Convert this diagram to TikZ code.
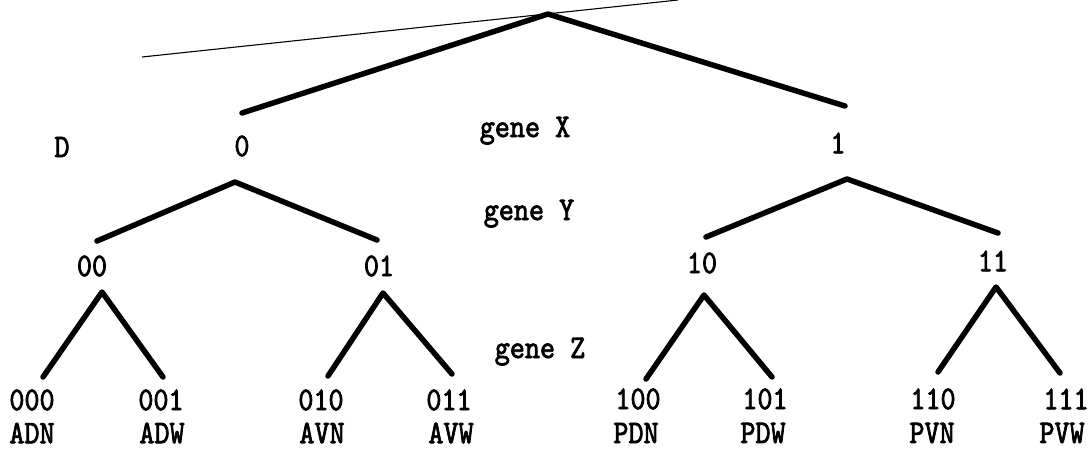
\documentclass[tikz,border=0pt]{standalone}
\usepackage{fontspec}
\newfontfamily\twfont{lmmono10-regular.otf}[FakeBold=2.2,FakeStretch=0.87]
\begin{document}
\begin{tikzpicture}[x=1pt,y=-1pt,
  branch/.style={line width=5.5pt, line cap=round, line join=round},
  thinline/.style={line width=1.1pt},
  lab/.style={font=\fontsize{33}{33}\selectfont\twfont, inner sep=0pt},
  gene/.style={lab, anchor=base}]
\useasboundingbox (0,0) rectangle (1091,451);
% apices and branch ends
\coordinate (r)  at (548,14);
\coordinate (r0) at (242,113);
\coordinate (r1) at (845,106);
\coordinate (a0) at (235,182);
\coordinate (a00) at (97,241);
\coordinate (a01) at (377,240);
\coordinate (a1) at (847,179);
\coordinate (a10) at (706,237);
\coordinate (a11) at (998,233);
\coordinate (b00) at (102,292);
\coordinate (b000) at (43,377);
\coordinate (b001) at (163,377);
\coordinate (b01) at (383,293);
\coordinate (b010) at (328,376);
\coordinate (b011) at (452,374);
\coordinate (b10) at (704,295);
\coordinate (b100) at (646,379);
\coordinate (b101) at (772,377);
\coordinate (b11) at (996,287);
\coordinate (b110) at (938,372);
\coordinate (b111) at (1060,373);
\coordinate (t1) at (142,57);
\coordinate (t2) at (678,0);
% thin stray line
\draw[thinline] (t1) -- (t2);
% branches
\draw[branch] (r0) -- (r) -- (r1);
\draw[branch] (a00) -- (a0) -- (a01);
\draw[branch] (a10) -- (a1) -- (a11);
\draw[branch] (b000) -- (b00) -- (b001);
\draw[branch] (b010) -- (b01) -- (b011);
\draw[branch] (b100) -- (b10) -- (b101);
\draw[branch] (b110) -- (b11) -- (b111);
% labels
\node[lab] (nD) at (62,147) {D};
\node[lab] (n0) at (242,146) {0};
\node[lab] (n1) at (838,143) {1};
\node[gene] (gx) at (525,137) {gene X};
\node[gene] (gy) at (529,220) {gene Y};
\node[gene] (gz) at (540,358) {gene Z};
\node[lab] (n00) at (92,266) {00};
\node[lab] (n01) at (379,266) {01};
\node[lab] (n10) at (702,263) {10};
\node[lab] (n11) at (993,261) {11};
\node[lab] (n000) at (32,400) {000};
\node[lab] (n001) at (161,400) {001};
\node[lab] (n010) at (321,400) {010};
\node[lab] (n011) at (449,400) {011};
\node[lab] (n100) at (638,399) {100};
\node[lab] (n101) at (765,399) {101};
\node[lab] (n110) at (933,399) {110};
\node[lab] (n111) at (1066,399) {111};
\node[lab] (lADN) at (32,433) {ADN};
\node[lab] (lADW) at (162,433) {ADW};
\node[lab] (lAVN) at (322,433) {AVN};
\node[lab] (lAVW) at (451,433) {AVW};
\node[lab] (lPDN) at (636,433) {PDN};
\node[lab] (lPDW) at (763,433) {PDW};
\node[lab] (lPVN) at (932,433) {PVN};
\node[lab] (lPVW) at (1062,433) {PVW};
\end{tikzpicture}
\end{document}
